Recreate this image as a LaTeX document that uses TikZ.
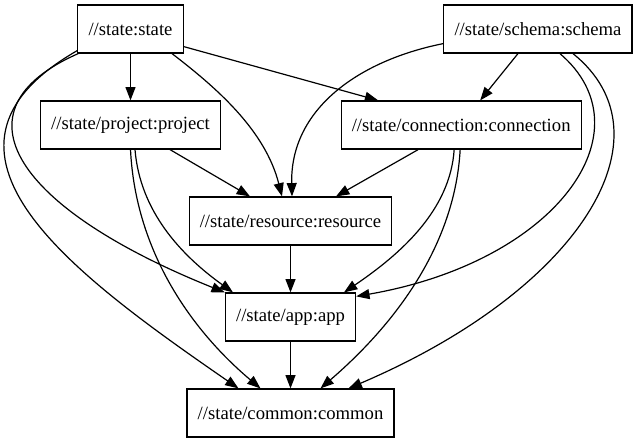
\documentclass[tikz,border=0pt]{standalone}
\usepackage{fontspec}
\setmainfont{Liberation Serif}
\usetikzlibrary{positioning}
\usetikzlibrary{arrows.meta}

\begin{document}
\begin{tikzpicture}[x=0.75pt,y=-0.75pt,on grid,node distance=72pt,line width=0.9pt,
  >={Triangle[length=10pt,width=7.5pt]},
  target/.style={draw,rectangle,minimum height=36pt,inner xsep=8pt,font=\fontsize{14}{17}\selectfont}]
  \useasboundingbox (0,0) rectangle (636,443);
  \node[target] (st) at (130.5,29) {//state:state};
  \node[target] (sc) [right=305.6pt of st] {//state/schema:schema};
  \node[target] (pj) [below=of st] {//state/project:project};
  \node[target] (cn) [right=248pt of pj] {//state/connection:connection};
  \node[target] (rs) [below right=72pt and 120pt of pj] {//state/resource:resource};
  \node[target] (ap) [below=of rs] {//state/app:app};
  \node[target] (cm) [below=of ap] {//state/common:common};
  \draw[->] (st) -- (pj);
  \draw[->] ([shift={(0,-7)}]st.south east) -- ([shift={(-83,0)}]cn.north);
  \draw[->] ([shift={(41.5,0)}]st.south) .. controls +(43,33) and +(-17,-67) .. ([shift={(-8.5,0)}]rs.north);
  \draw[->] ([shift={(1,0)}]st.south west) .. controls +(-130,57) and +(-207,-83) .. (ap.north west);
  \draw[->] ([shift={(0,-3)}]st.south west) .. controls +(-174,100) and +(-165,-114) .. ([shift={(-52,0)}]cm.north);
  \draw[->] ([shift={(39.5,0)}]pj.south) -- ([shift={(-40.5,0)}]rs.north);
  \draw[->] ([shift={(4.5,0)}]pj.south) .. controls +(5,61) and +(-53,-38) .. ([shift={(-57.5,0)}]ap.north);
  \draw[->] (pj.south) .. controls +(5,101) and +(-70,-59) .. ([shift={(-30,0)}]cm.north);
  \draw[->] ([shift={(-43,0)}]cn.south) -- ([shift={(45.5,0)}]rs.north);
  \draw[->] ([shift={(-7,0)}]cn.south) .. controls +(-4,61) and +(56,-38) .. ([shift={(53.5,0)}]ap.north);
  \draw[->] ([shift={(-1,0)}]cn.south) .. controls +(-5,91) and +(80,-69) .. ([shift={(30,0)}]cm.north);
  \draw[->] ([shift={(-20,0)}]sc.south) -- ([shift={(19,0)}]cn.north);
  \draw[->] ([shift={(0,-10)}]sc.south west) .. controls +(-85,17) and +(-2,-87) .. ([shift={(1.5,0)}]rs.north);
  \draw[->] ([shift={(22,0)}]sc.south) .. controls +(90,77) and +(201,-35) .. ([shift={(0,4)}]ap.north east);
  \draw[->] ([shift={(35,0)}]sc.south) .. controls +(102,82) and +(232,-99) .. ([shift={(58,0)}]cm.north);
  \draw[->] (rs) -- (ap);
  \draw[->] (ap) -- (cm);
\end{tikzpicture}
\end{document}
